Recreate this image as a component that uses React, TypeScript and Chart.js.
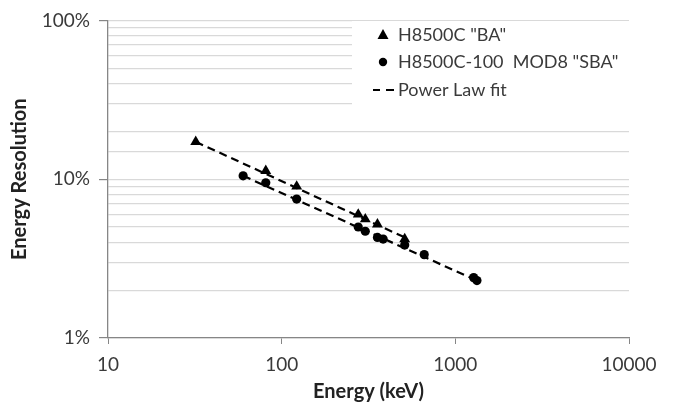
import React, { useEffect, useRef } from "react";
import { Chart, registerables } from "chart.js";

Chart.register(...registerables);

// Data (Energy in keV, Resolution in %)
const energyBA = [32, 81, 122, 276, 303, 356, 511];
const resolutionBA = [17.2, 11.3, 9.0, 6.0, 5.6, 5.2, 4.2];

const energySBA = [60, 81, 122, 276, 303, 356, 384, 511, 662, 1275, 1332];
const resolutionSBA = [10.5, 9.5, 7.5, 5.0, 4.7, 4.3, 4.2, 3.85, 3.35, 2.4, 2.3];

const fitEnergyBA = [32, 511];
const fitResolutionBA = [17.2, 4.3];
const fitEnergySBA = [60, 1332];
const fitResolutionSBA = [10.5, 2.3];

const xTickValues = [10, 100, 1000, 10000];
const yTickLabels = [1, 10, 100];

const legendLabels = ['H8500C "BA"', 'H8500C-100  MOD8 "SBA"', "Power Law fit"];

const FONT = "Lato, 'Open Sans', sans-serif";
const TEXT = "#3a3a3a";
const AXIS = "#868686";
const GRID = "#d9d9d9";

const toPoints = (xs: number[], ys: number[]) => xs.map((x, i) => ({ x, y: ys[i] }));

const isDecade = (v: number) => yTickLabels.some((d) => Math.abs(v - d) < 1e-9);

const legendPlugin = {
  id: "customLegend",
  afterDraw(chart: any) {
    const ctx = chart.ctx;
    ctx.save();
    ctx.fillStyle = "#ffffff";
    ctx.fillRect(352, 21, 277, 85);
    const rows = [35, 62, 90];
    const mx = 383;
    // triangle
    ctx.fillStyle = "#000";
    ctx.beginPath();
    ctx.moveTo(mx, rows[0] - 6);
    ctx.lineTo(mx + 5.5, rows[0] + 4);
    ctx.lineTo(mx - 5.5, rows[0] + 4);
    ctx.closePath();
    ctx.fill();
    // circle
    ctx.beginPath();
    ctx.arc(mx, rows[1], 4.2, 0, Math.PI * 2);
    ctx.fill();
    // dashes
    ctx.strokeStyle = "#000";
    ctx.lineWidth = 2;
    ctx.beginPath();
    ctx.moveTo(373, rows[2]);
    ctx.lineTo(380, rows[2]);
    ctx.moveTo(386, rows[2]);
    ctx.lineTo(394, rows[2]);
    ctx.stroke();
    // texts
    ctx.fillStyle = TEXT;
    ctx.font = `18px ${FONT}`;
    ctx.textBaseline = "middle";
    ctx.textAlign = "left";
    legendLabels.forEach((t, i) => ctx.fillText(t, 398, rows[i]));
    ctx.restore();
  },
};

export default function App() {
  const canvasRef = useRef<HTMLCanvasElement | null>(null);

  useEffect(() => {
    if (!canvasRef.current) return;
    const chart = new Chart(canvasRef.current, {
      type: "scatter",
      data: {
        datasets: [
          {
            label: "fitBA",
            data: toPoints(fitEnergyBA, fitResolutionBA),
            showLine: true,
            borderColor: "#000",
            borderWidth: 2.2,
            borderDash: [8, 5],
            pointRadius: 0,
          },
          {
            label: "fitSBA",
            data: toPoints(fitEnergySBA, fitResolutionSBA),
            showLine: true,
            borderColor: "#000",
            borderWidth: 2.2,
            borderDash: [8, 5],
            pointRadius: 0,
          },
          {
            label: legendLabels[0],
            data: toPoints(energyBA, resolutionBA),
            pointStyle: "triangle",
            pointRadius: 6.3,
            backgroundColor: "#000",
            borderColor: "#000",
            borderWidth: 0,
          },
          {
            label: legendLabels[1],
            data: toPoints(energySBA, resolutionSBA),
            pointStyle: "circle",
            pointRadius: 4.6,
            backgroundColor: "#000",
            borderColor: "#000",
            borderWidth: 0,
          },
        ],
      },
      options: {
        responsive: false,
        animation: false,
        layout: { padding: { top: 18, right: 46, bottom: 0, left: 0 } },
        plugins: {
          legend: { display: false },
          tooltip: { enabled: false },
        },
        scales: {
          x: {
            type: "logarithmic",
            position: "bottom",
            min: 10,
            max: 10000,
            border: { color: AXIS, width: 1.3 },
            grid: { drawOnChartArea: false, drawTicks: true, tickLength: 6, tickColor: AXIS },
            afterBuildTicks: (scale: any) => {
              scale.ticks = xTickValues.map((v) => ({ value: v }));
            },
            ticks: {
              autoSkip: false,
              maxRotation: 0,
              color: TEXT,
              font: { family: FONT, size: 19 },
              padding: 9,
              callback: (v: any) => String(v),
            },
            title: {
              display: true,
              text: "Energy (keV)",
              color: "#222",
              font: { family: FONT, size: 20, weight: "bold" },
              padding: { top: 0, bottom: 2 },
            },
            afterFit: (scale: any) => {
              scale.height = 68;
            },
          },
          y: {
            type: "logarithmic",
            min: 1,
            max: 100,
            border: { color: AXIS, width: 1.3 },
            grid: {
              color: GRID,
              lineWidth: 1.2,
              drawTicks: true,
              tickLength: 9,
              tickColor: (ctx: any) => (ctx.tick && isDecade(ctx.tick.value) ? AXIS : "rgba(0,0,0,0)"),
            },
            ticks: {
              autoSkip: false,
              color: TEXT,
              font: { family: FONT, size: 19 },
              padding: 9,
              callback: (v: any) => (isDecade(Number(v)) ? `${v}%` : ""),
            },
            title: {
              display: true,
              text: "Energy Resolution",
              color: "#222",
              font: { family: FONT, size: 20, weight: "bold" },
              padding: { top: 8, bottom: 0 },
            },
            afterFit: (scale: any) => {
              scale.width = 108;
            },
          },
        },
      },
      plugins: [legendPlugin],
    });
    return () => chart.destroy();
  }, []);

  return (
    <div style={{ position: "fixed", left: 0, top: 0, width: 675, height: 406, background: "#fff" }}>
      <canvas ref={canvasRef} width={675} height={406} style={{ display: "block" }} />
    </div>
  );
}
